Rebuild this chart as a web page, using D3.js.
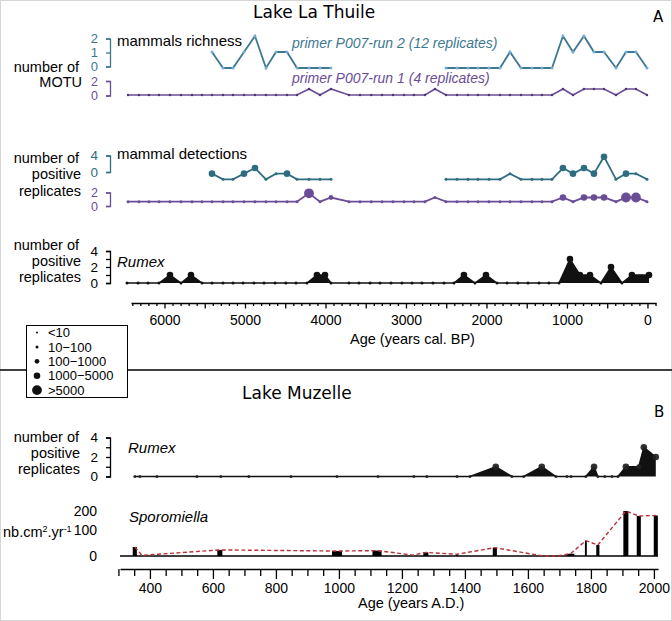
<!DOCTYPE html>
<html><head><meta charset="utf-8">
<script src="https://cdn.jsdelivr.net/npm/d3@7"></script>
<style>
body{margin:0;background:#fff}
svg{display:block}
text{font-family:"Liberation Sans",Arial,sans-serif}
.ttl{font-family:"DejaVu Sans",sans-serif}
</style>
</head><body>
<svg id="c" width="672" height="621"></svg>
<script>
// ---------------- DATA ----------------
// Lake La Thuile mammal samples (years cal. BP)
const thuileAges = [6453,6317,6193,6068,5932,5795,5658,5534,5410,5273,5149,5012,4876,4739,4615,4478,4354,4205,4068,3932,3708,3571,3432,3298,3161,3025,2901,2764,2640,2503,2366,2230,2106,1969,1832,1708,1571,1435,1311,1186,1050,925,789,665,540,391,267,143,6];
const N = null;
// mammals richness (number of MOTU)
const richRun2 = [N,N,N,N,N,N,N,N, 1,0,0,1,2,0,1,1,0,0,0,0, N,N,N,N,N,N,N,N,N, 0,0,0,0,0,0,1,0,0,0,0,2,1,2,1,1,0,1,1,0];
const richRun1 = [0,0,0,0,0,0,0,0,0,0,0,0,0,0,0,0,0,1,0,1,0,0,0,0,0,0,0,0,1,0,0,0,0,0,0,0,0,0,0,0,1,0,1,1,1,0,1,1,0];
// mammal detections (number of positive replicates) + read-count size class
const detRun2 = [N,N,N,N,N,N,N,N, 1,0,0,1,2,0,1,1,0,0,0,0, N,N,N,N,N,N,N,N,N, 0,0,0,0,0,0,1,0,0,0,0,2,1,2,1,4,0,1,1,0];
const detRun2Size = [N,N,N,N,N,N,N,N, 3,1,1,3,3,1,1,3,1,1,1,1, N,N,N,N,N,N,N,N,N, 1,1,1,1,1,1,1,1,1,1,1,3,3,3,3,3,1,3,1,1];
const detRun1 = [0,0,0,0,0,0,0,0,0,0,0,0,0,0,0,0,0,2,0,1,0,0,0,0,0,0,0,0,1,0,0,0,0,0,0,0,0,0,0,0,1,0,1,1,1,0,1,1,0];
const detRun1Size = [1,1,1,1,1,1,1,1,1,1,1,1,1,1,1,1,1,4,1,2,1,1,1,1,1,1,1,1,1,1,1,1,1,1,1,1,1,1,1,1,3,1,3,3,3,1,4,4,1];
// Rumex, Lake La Thuile
const rumexThuileAges = [6466,6329,6205,6068,5932,5795,5671,5534,5410,5273,5149,5025,4888,4764,4627,4491,4366,4230,4106,4006,3932,3708,3584,3447,3323,3186,3050,2925,2801,2665,2528,2404,2280,2143,2006,1870,1745,1609,1484,1348,1224,1099,963,839,714,578,453,317,193,-19];
const rumexThuile = [0,0,0,0,1,0,1,0,0,0,0,0,0,0,0,0,0,0,1,1,0,0,0,0,0,0,0,0,0,0,0,0,1,0,1,0,0,0,0,0,0,0,3,1,1,0,2,0,1,1];
const rumexThuileSize = [1,1,1,1,3,1,3,1,1,1,1,1,1,1,1,1,1,1,3,3,1,1,1,1,1,1,1,1,1,1,1,1,3,1,3,1,1,1,1,1,1,1,3,3,3,1,3,1,3,3];
// Rumex, Lake Muzelle (years A.D.)
const rumexMuzYears = [352,368,422,549,625,714,848,994,1124,1238,1279,1375,1416,1498,1549,1587,1644,1689,1724,1737,1784,1810,1822,1844,1867,1886,1911,1952,1968,2006];
const rumexMuz = [0,0,0,0,0,0,0,0,0,0,0,0,0,1,0,0,1,0,0,0,0,1,0,0,0,0,1,1,3,2];
const rumexMuzSize = [1,1,1,1,1,1,1,1,1,1,1,1,1,3,1,1,3,1,1,1,1,3,1,1,1,1,3,2,3,3];
// Sporormiella influx, Lake Muzelle
const sporoYears = [352,375,622,994,1121,1235,1276,1375,1495,1648,1690,1735,1784,1822,1911,1952,2006];
const sporoValues = [40,3,27,22,24,4,16,8,37,0,0,10,68,49,200,178,180];
const sporoSpan = [13,0,16,32,29,0,16,6,13,0,0,25,6,10,16,13,13];
// legend size classes (reads)
const sizeClasses = ["<10","10\u2212100","100\u22121000","1000\u22125000",">5000"];
// ticks
const bpTicks = d3.range(-100, 6401, 100);
const adTicks = d3.range(300, 2001, 50);

// ---------------- STYLE ----------------
const TEAL = "#2e6d7f", TEAL2 = "#3d7890", TEALDOT = "#74aedb", PURP = "#6a4d97";
const radius = [1.0, 1.5, 2.4, 3.3, 4.9];

const svg = d3.select("#c");
svg.append("rect").attr("x",0.5).attr("y",0.5).attr("width",671).attr("height",620)
  .attr("fill","#fff").attr("stroke","#d6d6d6");

// ---------------- SCALES ----------------
const xBP = d3.scaleLinear().domain([6416, -106]).range([131, 656]);
const xAD = d3.scaleLinear().domain([305, 2013]).range([120, 658]);

const yRich2 = d3.scaleLinear().domain([0,2]).range([68, 36]);
const yRich1 = d3.scaleLinear().domain([0,2]).range([95, 83]);
const yDet2 = d3.scaleLinear().domain([0,4]).range([179.3, 156.7]);
const yDet1 = d3.scaleLinear().domain([0,2]).range([201.7, 193.3]);
const yRumT = d3.scaleLinear().domain([0,4]).range([283, 251]);
const yRumM = d3.scaleLinear().domain([0,4]).range([476.5, 437.5]);
const ySp = d3.scaleLinear().domain([0,200]).range([556, 511]);

// axis scales (bracket positions as printed)
const aRich2 = d3.scaleLinear().domain([0,2]).range([66.5, 38.5]);
const aRich1 = d3.scaleLinear().domain([0,2]).range([95.5, 81]);
const aDet2 = d3.scaleLinear().domain([0,4]).range([172, 155.5]);
const aDet1 = d3.scaleLinear().domain([0,2]).range([206, 192.5]);

function yAxis(scale, ticks, labels, color, x, fs){
  const g = svg.append("g").attr("transform",`translate(${x},0)`)
    .call(d3.axisLeft(scale).tickValues(ticks).tickSize(4).tickPadding(8)
      .tickFormat(d => labels.includes(d) ? d : ""));
  g.selectAll("path,line").attr("stroke", color).attr("stroke-width",1.3);
  g.selectAll("text").attr("fill", color).style("font-size",(fs||14)+"px")
    .style("font-family",'"Liberation Sans",Arial,sans-serif');
  return g;
}
function label(x, y, str, opts={}){
  const t = svg.append("text").attr("x",x).attr("y",y).text(str)
    .style("font-size",(opts.size||14.5)+"px").attr("fill",opts.color||"#000");
  if(opts.anchor) t.attr("text-anchor",opts.anchor);
  if(opts.italic) t.style("font-style","italic");
  if(opts.cls) t.attr("class",opts.cls);
  return t;
}

// ---------------- PANEL A ----------------
label(253, 18, "Lake La Thuile", {size:17, cls:"ttl"});
label(653, 22, "A", {size:15, cls:"ttl"});

// richness
label(79, 72, "number of", {anchor:"end"});
label(82, 87, "MOTU", {anchor:"end"});
label(117, 46, "mammals richness", {size:15});
label(292, 48, "primer P007-run 2 (12 replicates)", {size:14, italic:true, color:TEAL2});
label(292, 83, "primer P007-run 1 (4 replicates)", {size:14, italic:true, color:PURP});
yAxis(aRich2, [0,1,2], [0,1,2], TEAL2, 110, 13);
yAxis(aRich1, [0,2], [0,2], PURP, 110, 12.5);

const r2 = thuileAges.map((a,i)=>({a, v:richRun2[i]}));
const r1 = thuileAges.map((a,i)=>({a, v:richRun1[i]}));
svg.append("path").datum(r1).attr("fill","none").attr("stroke",PURP).attr("stroke-width",1.7)
  .attr("d", d3.line().x(d=>xBP(d.a)).y(d=>yRich1(d.v)));
svg.append("g").selectAll("circle").data(r1).join("circle")
  .attr("cx",d=>xBP(d.a)).attr("cy",d=>yRich1(d.v)).attr("r",1.2).attr("fill","#4e3577");
svg.append("path").datum(r2).attr("fill","none").attr("stroke",TEAL2).attr("stroke-width",1.8)
  .attr("d", d3.line().defined(d=>d.v!==null).x(d=>xBP(d.a)).y(d=>yRich2(d.v)));
svg.append("g").selectAll("circle").data(r2.filter(d=>d.v!==null)).join("circle")
  .attr("cx",d=>xBP(d.a)).attr("cy",d=>yRich2(d.v)).attr("r",1.5).attr("fill",TEALDOT);

// detections
label(79, 162.5, "number of", {anchor:"end"});
label(81, 179, "positive", {anchor:"end"});
label(81, 195.5, "replicates", {anchor:"end"});
label(117, 159, "mammal detections", {size:15});
yAxis(aDet2, [0,4], [0,4], TEAL, 110, 13.5);
yAxis(aDet1, [0,2], [0,2], PURP, 110, 12.5);

const d1 = thuileAges.map((a,i)=>({a, v:detRun1[i], s:detRun1Size[i]}));
const d2 = thuileAges.map((a,i)=>({a, v:detRun2[i], s:detRun2Size[i]}));
svg.append("path").datum(d2).attr("fill","none").attr("stroke",TEAL).attr("stroke-width",1.8)
  .attr("d", d3.line().defined(d=>d.v!==null).x(d=>xBP(d.a)).y(d=>yDet2(d.v)));
svg.append("g").selectAll("circle").data(d2.filter(d=>d.v!==null)).join("circle")
  .attr("cx",d=>xBP(d.a)).attr("cy",d=>yDet2(d.v)).attr("r",d=>radius[d.s]).attr("fill",TEAL);
svg.append("path").datum(d1).attr("fill","none").attr("stroke",PURP).attr("stroke-width",1.8)
  .attr("d", d3.line().x(d=>xBP(d.a)).y(d=>yDet1(d.v)));
svg.append("g").selectAll("circle").data(d1).join("circle")
  .attr("cx",d=>xBP(d.a)).attr("cy",d=>yDet1(d.v)).attr("r",d=>radius[d.s]).attr("fill",PURP);

// Rumex La Thuile
label(79, 250, "number of", {anchor:"end"});
label(81, 266, "positive", {anchor:"end"});
label(81, 282, "replicates", {anchor:"end"});
label(117, 267, "Rumex", {size:15, italic:true});
yAxis(yRumT, [0,1,2,3,4], [0,2,4], "#000", 110, 13.5);
const rt = rumexThuileAges.map((a,i)=>({a, v:rumexThuile[i], s:rumexThuileSize[i]}));
svg.append("path").datum(rt).attr("fill","#111")
  .attr("d", d3.area().x(d=>xBP(d.a)).y0(yRumT(0)).y1(d=>yRumT(d.v)));
svg.append("path").datum(rt).attr("fill","none").attr("stroke","#111").attr("stroke-width",1.5)
  .attr("d", d3.line().x(d=>xBP(d.a)).y(d=>yRumT(d.v)));
svg.append("g").selectAll("circle").data(rt).join("circle")
  .attr("cx",d=>xBP(d.a)).attr("cy",d=>yRumT(d.v)).attr("r",d=>radius[d.s]).attr("fill","#111");

// x axis BP
const gx1 = svg.append("g").attr("transform","translate(0,303)")
  .call(d3.axisBottom(xBP).tickValues(bpTicks).tickSize(3).tickSizeOuter(0).tickPadding(9)
    .tickFormat(d => (d%1000===0 && d>=0) ? d : ""));
gx1.selectAll(".tick line").attr("y2", d => d%500===0 ? 5.5 : 3);
gx1.selectAll("path,line").attr("stroke","#000").attr("stroke-width",1.3);
gx1.selectAll("text").style("font-size","14px").attr("fill","#000")
  .style("font-family",'"Liberation Sans",Arial,sans-serif');
label(350, 344, "Age (years cal. BP)", {size:14.5});

// divider + legend
svg.append("line").attr("x1",0).attr("x2",672).attr("y1",370).attr("y2",370)
  .attr("stroke","#000").attr("stroke-width",1.5);
const lg = svg.append("g");
lg.append("rect").attr("x",26.5).attr("y",325.5).attr("width",101).attr("height",72)
  .attr("fill","#fff").attr("stroke","#000").attr("stroke-width",1);
sizeClasses.forEach((s,i)=>{
  const cy = 332.5 + i*14.4;
  lg.append("circle").attr("cx",37).attr("cy",cy).attr("r",radius[i]).attr("fill","#111");
  lg.append("text").attr("x",48).attr("y",cy+4.6).text(s).style("font-size","13px");
});

// ---------------- PANEL B ----------------
label(242, 399, "Lake Muzelle", {size:17, cls:"ttl"});
label(654, 417, "B", {size:15, cls:"ttl"});

label(79, 441.5, "number of", {anchor:"end"});
label(80, 457.5, "positive", {anchor:"end"});
label(80, 473.5, "replicates", {anchor:"end"});
label(128, 453, "Rumex", {size:15, italic:true});
yAxis(yRumM, [0,1,2,3,4], [0,2,4], "#000", 110, 13.5);
const rm = rumexMuzYears.map((y,i)=>({y, v:rumexMuz[i], s:rumexMuzSize[i]}));
svg.append("path").datum(rm).attr("fill","#111")
  .attr("d", d3.area().x(d=>xAD(d.y)).y0(yRumM(0)).y1(d=>yRumM(d.v)));
svg.append("path").datum(rm).attr("fill","none").attr("stroke","#111").attr("stroke-width",1.5)
  .attr("d", d3.line().x(d=>xAD(d.y)).y(d=>yRumM(d.v)));
svg.append("g").selectAll("circle").data(rm).join("circle")
  .attr("cx",d=>xAD(d.y)).attr("cy",d=>yRumM(d.v)).attr("r",d=>radius[d.s])
  .attr("fill","#222").attr("fill-opacity",0.92);

// Sporormiella
const nb = svg.append("text").attr("x",3).attr("y",537).style("font-size","14.5px");
nb.append("tspan").text("nb.cm");
nb.append("tspan").text("2").style("font-size","9px").attr("dy",-5);
nb.append("tspan").text(".yr").attr("dy",5);
nb.append("tspan").text("-1").style("font-size","9px").attr("dy",-5);
const gs = svg.append("g").attr("transform","translate(97,0)")
  .call(d3.axisLeft(ySp).tickValues([0,100,200]).tickSize(0).tickPadding(0));
gs.select(".domain").remove();
gs.selectAll("text").style("font-size","14px").attr("fill","#000")
  .style("font-family",'"Liberation Sans",Arial,sans-serif');
gs.selectAll(".tick").filter(d=>d===100).select("text").attr("dy","0.1em");
label(129, 522, "Sporomiella", {size:15, italic:true});

svg.append("line").attr("x1",xAD(305)).attr("x2",xAD(2013)).attr("y1",ySp(0)).attr("y2",ySp(0))
  .attr("stroke","#000").attr("stroke-width",1.5);
const sp = sporoYears.map((y,i)=>({y, v:sporoValues[i], w:sporoSpan[i]}));
svg.append("g").selectAll("rect").data(sp.filter(d=>d.w>0)).join("rect")
  .attr("x",d=>xAD(d.y - d.w/2)).attr("width",d=>xAD(d.y + d.w/2)-xAD(d.y - d.w/2))
  .attr("y",d=>ySp(d.v)).attr("height",d=>ySp(0)-ySp(d.v)).attr("fill","#000");
svg.append("path").datum(sp).attr("fill","none").attr("stroke","#b8333a").attr("stroke-width",1.4)
  .attr("stroke-dasharray","4,2.5")
  .attr("d", d3.line().x(d=>xAD(d.y)).y(d=>ySp(d.v)));

// x axis AD
const gx2 = svg.append("g").attr("transform","translate(0,569)")
  .call(d3.axisBottom(xAD).tickValues(adTicks).tickSize(7).tickSizeOuter(0).tickPadding(7)
    .tickFormat(d => (d%200===0 && d>=400) ? d : ""));
gx2.selectAll(".tick line").attr("y2", d => (d%200===0 && d>=400) ? 10 : 7);
gx2.selectAll("path,line").attr("stroke","#000").attr("stroke-width",1.3);
gx2.selectAll("text").style("font-size","14px").attr("fill","#000")
  .style("font-family",'"Liberation Sans",Arial,sans-serif');
label(358, 608, "Age (years A.D.)", {size:14.5});
</script>
</body></html>
